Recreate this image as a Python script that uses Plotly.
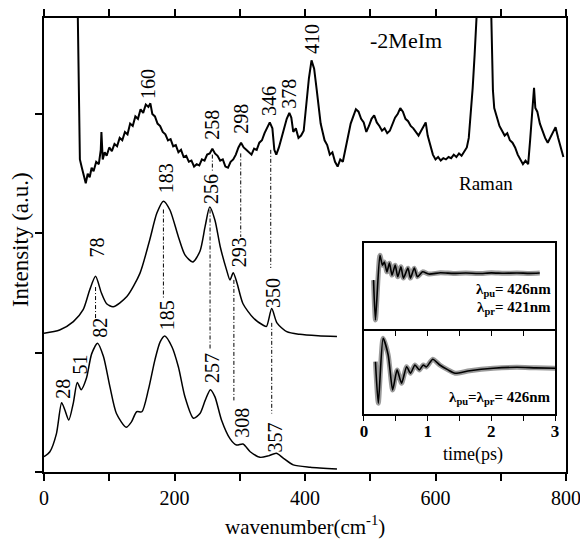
import plotly.graph_objects as go

# ---------------- data ----------------
# Raman spectrum (top trace)
raman_x = [50, 53, 55, 58, 62, 64, 67, 70, 73, 76, 80, 84, 87, 88, 90, 93, 96, 100, 104, 108,
           112, 116, 120, 124, 128, 132, 136, 140, 144, 148, 152, 156, 160, 163, 166, 170, 174,
           178, 182, 186, 190, 194, 198, 202, 206, 210, 214, 218, 222, 226, 230, 234, 238, 242,
           246, 250, 254, 258, 262, 266, 270, 274, 278, 282, 286, 290, 294, 298, 302, 306, 310,
           314, 318, 322, 326, 330, 334, 338, 342, 346, 350, 353, 356, 360, 364, 368, 372, 376,
           379, 382, 386, 390, 394, 398, 402, 406, 410, 414, 418, 421, 424, 427, 430, 434, 438,
           442, 446, 450, 454, 458, 462, 466, 470, 474, 478, 482, 486, 490, 494, 498, 502, 506,
           510, 514, 518, 522, 526, 530, 534, 538, 542, 546, 550, 554, 558, 562, 566, 570, 574,
           578, 582, 585, 588, 592, 596, 600, 604, 608, 612, 616, 620, 624, 628, 632, 636, 640,
           644, 648, 651, 654, 657, 660, 663, 666, 674, 684, 686, 688, 690, 694, 698, 702, 706,
           710, 714, 718, 722, 726, 730, 734, 738, 742, 745, 748, 751, 753, 756, 760, 764, 768,
           772, 776, 780, 784, 788, 792, 796, 799]
raman_y = [4.5, 3.5, 2.62, 2.55, 2.45, 2.42, 2.50, 2.47, 2.55, 2.52, 2.60, 2.58, 2.70, 2.85, 2.62,
           2.68, 2.65, 2.72, 2.69, 2.75, 2.73, 2.80, 2.78, 2.85, 2.83, 2.92, 2.90, 2.98, 2.96,
           3.04, 3.01, 3.08, 3.06, 3.09, 3.00, 2.98, 2.92, 2.90, 2.85, 2.83, 2.78, 2.79, 2.73,
           2.74, 2.68, 2.70, 2.64, 2.65, 2.60, 2.61, 2.56, 2.58, 2.57, 2.62, 2.61, 2.66, 2.67,
           2.71, 2.67, 2.65, 2.61, 2.62, 2.56, 2.55, 2.60, 2.62, 2.66, 2.72, 2.76, 2.72, 2.70,
           2.68, 2.66, 2.71, 2.70, 2.76, 2.78, 2.84, 2.88, 2.93, 2.88, 2.70, 2.66, 2.72, 2.80,
           2.88, 2.96, 3.01, 2.97, 2.85, 2.88, 2.80, 2.82, 2.86, 3.10, 3.30, 3.45, 3.38, 3.20,
           3.05, 2.92, 2.85, 2.78, 2.74, 2.66, 2.68, 2.60, 2.56, 2.62, 2.60, 2.70, 2.82, 2.92,
           2.98, 3.04, 3.02, 2.96, 2.93, 2.85, 2.90, 2.96, 2.99, 2.93, 2.90, 2.86, 2.88, 2.84,
           2.86, 2.92, 2.97, 3.00, 3.05, 3.02, 2.96, 2.94, 2.90, 2.88, 2.85, 2.82, 2.86, 2.90,
           2.93, 2.82, 2.75, 2.66, 2.62, 2.64, 2.61, 2.63, 2.62, 2.64, 2.63, 2.66, 2.64, 2.67,
           2.65, 2.68, 2.72, 2.80, 2.98, 3.22, 3.50, 3.80, 4.20, 5.00, 4.20, 3.60, 3.20, 3.05,
           2.98, 2.90, 2.86, 2.82, 2.84, 2.78, 2.76, 2.72, 2.66, 2.62, 2.58, 2.61, 2.58, 2.78,
           3.05, 3.22, 3.05, 3.02, 2.92, 2.86, 2.80, 2.76, 2.80, 2.84, 2.89, 2.80, 2.72, 2.64]

# middle calculated spectrum
mid_x = [0, 24, 45, 60, 70, 79, 88, 96, 106, 127, 147, 162, 173, 183, 193, 206, 216, 228, 239,
         247, 254, 262, 270, 280, 285, 290, 296, 305, 321, 336, 341, 349, 357, 372, 392, 420, 449]
mid_y = [1.163, 1.19, 1.26, 1.36, 1.525, 1.64, 1.50, 1.41, 1.385, 1.47, 1.665, 1.945, 2.17, 2.27,
         2.196, 1.97, 1.82, 1.76, 1.85, 2.06, 2.22, 2.11, 1.89, 1.69, 1.61, 1.67, 1.58, 1.41,
         1.29, 1.23, 1.22, 1.37, 1.25, 1.176, 1.154, 1.142, 1.135]

# bottom calculated spectrum
bot_x = [0, 9, 19, 27, 32, 38, 45, 51, 57, 65, 73, 82, 91, 101, 111, 126, 134, 142, 150, 160,
         170, 178, 185, 196, 206, 216, 229, 239, 247, 255, 262, 272, 285, 295, 305, 316, 331,
         344, 356, 367, 382, 408, 449]
bot_y = [0.128, 0.17, 0.32, 0.58, 0.52, 0.436, 0.58, 0.75, 0.69, 0.785, 0.99, 1.08, 0.97, 0.715,
         0.49, 0.375, 0.42, 0.505, 0.505, 0.69, 0.94, 1.09, 1.14, 1.05, 0.88, 0.63, 0.45, 0.49,
         0.60, 0.69, 0.63, 0.436, 0.28, 0.226, 0.234, 0.17, 0.123, 0.135, 0.157, 0.115, 0.06,
         0.04, 0.025]

# peak labels: (text, x, y)
peak_labels = [("160", 159, 3.25), ("258", 257.5, 2.91), ("298", 302, 2.96), ("346", 345, 3.11),
               ("378", 375.5, 3.17), ("410", 411, 3.63),
               ("78", 81, 1.88), ("183", 188, 2.46), ("256", 257, 2.37), ("293", 300, 1.84),
               ("350", 351, 1.50),
               ("28", 29.6, 0.70), ("51", 55, 0.90), ("82", 86, 1.21), ("185", 188, 1.31),
               ("257", 257, 0.87), ("308", 303, 0.41), ("357", 354, 0.29)]

# dash-dot guides linking corresponding peaks: (x, y_top, y_bottom)
guides = [(79, 1.55, 1.29), (183, 2.20, 1.45), (254.5, 2.20, 1.02), (258, 2.66, 2.51),
          (301.5, 2.67, 1.97), (291, 1.61, 0.60), (347.5, 2.70, 1.71), (349, 1.25, 0.49)]

# time traces for the inset
t_top = [0.15, 0.18, 0.25, 0.29, 0.32, 0.36, 0.40, 0.44, 0.49, 0.53, 0.58, 0.62, 0.69, 0.73,
         0.79, 0.84, 0.92, 1.02, 1.20, 1.40, 1.60, 1.80, 2.00, 2.20, 2.40, 2.60, 2.76]
s_top = [0.57, 0.105, 0.86, 0.744, 0.78, 0.666, 0.767, 0.628, 0.744, 0.608, 0.724, 0.593, 0.709,
         0.593, 0.709, 0.608, 0.666, 0.64, 0.655, 0.648, 0.652, 0.646, 0.654, 0.649, 0.653,
         0.648, 0.652]
t_bot = [0.18, 0.225, 0.30, 0.38, 0.45, 0.52, 0.59, 0.67, 0.73, 0.80, 0.87, 0.93, 0.98, 1.08,
         1.19, 1.32, 1.43, 1.66, 2.03, 2.40, 2.70, 3.0]
s_bot = [0.615, 0.126, 0.89, 0.694, 0.282, 0.518, 0.361, 0.556, 0.479, 0.576, 0.518, 0.576,
         0.553, 0.644, 0.576, 0.518, 0.479, 0.509, 0.538, 0.549, 0.542, 0.538]

FONT = "Liberation Serif, Times New Roman, serif"

fig = go.Figure()

fig.add_trace(go.Scatter(x=raman_x, y=raman_y, mode="lines",
                         line=dict(color="black", width=2), xaxis="x", yaxis="y"))
fig.add_trace(go.Scatter(x=mid_x, y=mid_y, mode="lines",
                         line=dict(color="black", width=1.5, shape="spline", smoothing=0.7),
                         xaxis="x", yaxis="y"))
fig.add_trace(go.Scatter(x=bot_x, y=bot_y, mode="lines",
                         line=dict(color="black", width=1.5, shape="spline", smoothing=0.7),
                         xaxis="x", yaxis="y"))

# inset traces: grey measured points with black fit on top
for t, s, xa, ya in [(t_bot, s_bot, "x2", "y2"), (t_top, s_top, "x3", "y3")]:
    fig.add_trace(go.Scatter(x=t, y=s, mode="lines", xaxis=xa, yaxis=ya,
                             line=dict(color="#9a9a9a", width=5, shape="spline", smoothing=0.6)))
    fig.add_trace(go.Scatter(x=t, y=s, mode="lines", xaxis=xa, yaxis=ya,
                             line=dict(color="black", width=1.6, shape="spline", smoothing=0.6)))

shapes = []
for gx, y0, y1 in guides:
    shapes.append(dict(type="line", xref="x", yref="y", x0=gx, x1=gx, y0=y0, y1=y1,
                       line=dict(color="black", width=1, dash="4px,2px,1px,2px")))


def note(text, x, y, ref, size, angle=0, xanchor="center", bold=False):
    return dict(text=f"<b>{text}</b>" if bold else text, x=x, y=y,
                xref="x" if ref == "data" else "paper", yref="y" if ref == "data" else "paper",
                xanchor=xanchor, yanchor="middle", showarrow=False, textangle=angle,
                font=dict(family=FONT, size=size, color="black"))


annotations = [note(txt, ax, ay, "data", 20, angle=-90) for txt, ax, ay in peak_labels]
annotations += [
    note("-2MeIm", 555, 3.62, "data", 22),
    note("Raman", 677, 2.42, "data", 19),
    note("wavenumber(cm<sup>-1</sup>)", 0.5, -0.117, "paper", 21),
    note("Intensity (a.u.)", -0.046, 0.513, "paper", 23, angle=-90),
    note("λ<sub>pu</sub>= 426nm", 0.975, 0.401, "paper", 15, xanchor="right", bold=True),
    note("λ<sub>pr</sub>= 421nm", 0.975, 0.361, "paper", 15, xanchor="right", bold=True),
    note("λ<sub>pu</sub>=λ<sub>pr</sub>= 426nm", 0.975, 0.163, "paper", 15,
         xanchor="right", bold=True),
    note("time(ps)", 0.822, 0.038, "paper", 18),
]

ax_common = dict(showgrid=False, zeroline=False, linecolor="black", tickcolor="black",
                 automargin=False)

main_ticks = [0, 100, 200, 300, 400, 500, 600, 700, 800]
main_ticktext = ["0", "", "200", "", "400", "", "600", "", "800"]

inset_x = dict(range=[0, 3], domain=[0.613, 0.979], tickvals=[0, 0.5, 1, 1.5, 2, 2.5, 3],
               ticks="outside", ticklen=5, linewidth=1.8, mirror=True, **ax_common)
inset_y = dict(range=[0, 1], showticklabels=False, ticks="", linewidth=1.8, mirror=True,
               **ax_common)

fig.update_layout(
    width=580, height=540, autosize=False,
    margin=dict(l=44, r=14, t=18, b=68, autoexpand=False),
    paper_bgcolor="white", plot_bgcolor="white",
    showlegend=False,
    font=dict(family=FONT, color="black"),
    xaxis=dict(range=[0, 800], tickvals=main_ticks, ticktext=main_ticktext,
               ticks="outside", ticklen=7, tickwidth=1.5, linewidth=1.8, mirror="allticks",
               ticklabeloverflow="allow",
               tickfont=dict(family=FONT, size=20, color="black"), **ax_common),
    yaxis=dict(range=[0, 3.805], tickvals=[0, 1, 2, 3], showticklabels=False,
               ticks="outside", ticklen=7, tickwidth=1.5, linewidth=1.8, mirror=True,
               **ax_common),
    xaxis2=dict(anchor="y2", ticklabeloverflow="allow", ticklabelstandoff=-4,
                ticktext=["<b>0</b>", "", "<b>1</b>", "", "<b>2</b>", "", "<b>3</b>"],
                tickfont=dict(family=FONT, size=17, color="black"), **inset_x),
    yaxis2=dict(anchor="x2", domain=[0.128, 0.315], **inset_y),
    xaxis3=dict(anchor="y3", showticklabels=False, **inset_x),
    yaxis3=dict(anchor="x3", domain=[0.315, 0.504], **inset_y),
    shapes=shapes,
    annotations=annotations,
)

fig.write_html("out.html")
